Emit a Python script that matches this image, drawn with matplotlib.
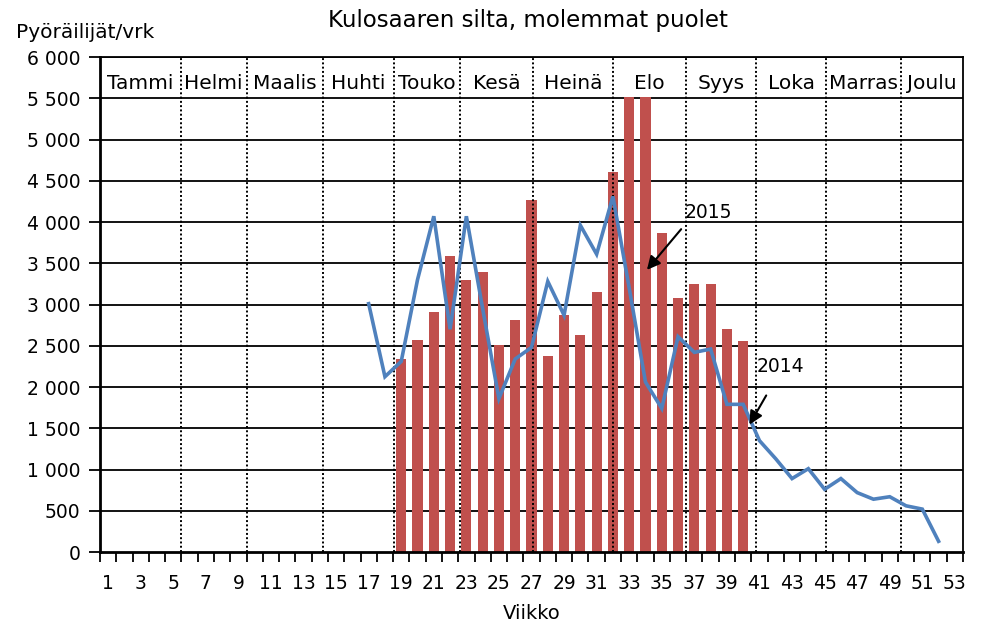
import matplotlib.pyplot as plt
import numpy as np

# weekly cyclists per day, Kulosaari bridge
weeks_2015 = list(range(19, 41))
vals_2015 = [2340, 2570, 2910, 3590, 3300, 3390, 2510, 2810, 4270, 2370, 2870,
             2630, 3150, 4610, 5520, 5520, 3870, 3080, 3250, 3250, 2700, 2560]

weeks_2014 = list(range(17, 53))
vals_2014 = [3010, 2125, 2310, 3300, 4070, 2700, 4070, 2950, 1860, 2340, 2480,
             3280, 2870, 3960, 3610, 4310, 3200, 2060, 1740, 2610, 2420, 2460,
             1790, 1790, 1350, 1130, 890, 1010, 760, 890, 720, 640, 670, 560,
             520, 130]

months = ['Tammi', 'Helmi', 'Maalis', 'Huhti', 'Touko', 'Kesä', 'Heinä',
          'Elo', 'Syys', 'Loka', 'Marras', 'Joulu']
month_edges = [5.45, 9.5, 14.2, 18.55, 22.6, 27.1, 32.0, 36.5, 40.8, 45.1, 49.7]

plt.rcParams['font.family'] = 'DejaVu Sans'

fig = plt.figure(figsize=(9.87, 6.3), dpi=100)
ax = fig.add_axes([0.1013, 0.1238, 0.8744, 0.7857])

ax.set_xlim(0.5, 53.5)
ax.set_ylim(0, 6000)

# horizontal gridlines
for yv in range(500, 6001, 500):
    ax.axhline(yv, color='black', lw=1.3, zorder=1)

ax.bar(weeks_2015, vals_2015, width=0.62, color='#C0504D', zorder=2)

# month separators
edges = [0.5] + month_edges + [53.5]
for e in month_edges:
    ax.axvline(e, color='black', lw=1.4, ls=(0, (1, 1.2)), zorder=3)
for i, m in enumerate(months):
    ax.text((edges[i] + edges[i + 1]) / 2, 5680, m, ha='center', va='center',
            fontsize=14.5, zorder=5)

ax.plot(weeks_2014, vals_2014, color='#4F81BD', lw=2.6, zorder=4,
        solid_joinstyle='miter')

# annotations
ax.annotate('', xy=(33.98, 3394), xytext=(36.3, 3939),
            arrowprops=dict(arrowstyle='-|>', color='black', lw=1.5,
                            mutation_scale=20), zorder=6)
ax.text(36.4, 4121, '2015', fontsize=13.5, ha='left', va='center')
ax.annotate('', xy=(40.3, 1515), xytext=(41.5, 1927),
            arrowprops=dict(arrowstyle='-|>', color='black', lw=1.5,
                            mutation_scale=20), zorder=6)
ax.text(40.85, 2254, '2014', fontsize=13.5, ha='left', va='center')

# axes / ticks
yt = np.arange(0, 6001, 500)
ax.set_yticks(yt)
ax.set_yticklabels([f"{v:,}".replace(',', ' ') for v in yt], fontsize=13.5)
ax.set_xticks(np.arange(0.5, 54, 1))
ax.set_xticklabels([])
ax.set_xticks(np.arange(1, 54, 2), minor=True)
ax.set_xticklabels([str(w) for w in range(1, 54, 2)], minor=True, fontsize=13.5)
ax.tick_params(axis='x', which='major', direction='out', length=7, width=1.3)
ax.tick_params(axis='x', which='minor', length=0, pad=16)
ax.tick_params(axis='y', direction='out', length=8, width=1.3, pad=6)
for s in ax.spines.values():
    s.set_linewidth(1.3)
ax.spines['left'].set_linewidth(2)
ax.spines['bottom'].set_linewidth(2)

ax.set_xlabel('Viikko', fontsize=14, labelpad=8)
fig.text(0.016, 0.948, 'Pyöräilijät/vrk', fontsize=14.5, ha='left', va='center')
fig.text(0.535, 0.968, 'Kulosaaren silta, molemmat puolet', fontsize=16.5,
         ha='center', va='center')

fig.savefig('out.png', dpi=100)
